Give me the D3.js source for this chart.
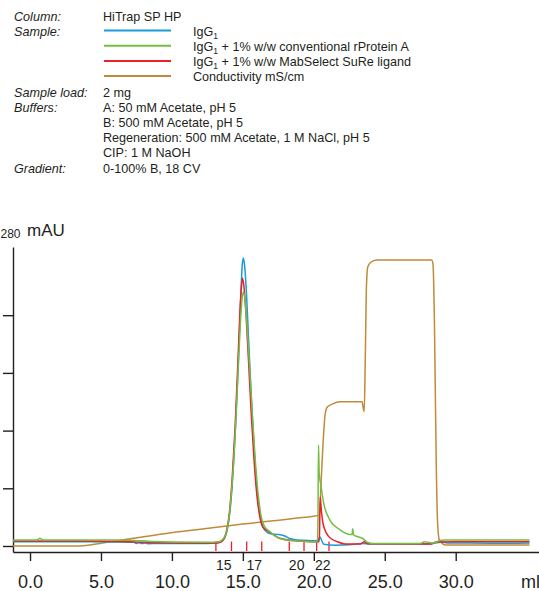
<!DOCTYPE html>
<html>
<head>
<meta charset="utf-8">
<script src="https://cdn.jsdelivr.net/npm/d3@7"></script>
<style>
  body { margin: 0; background: #fff; }
  svg { display: block; font-family: "Liberation Sans", Arial, sans-serif; }
  .hdr { font-size: 12.6px; fill: #231f20; }
  .axis path, .axis line { stroke: #231f20; stroke-width: 1.4; }
  .axis text { fill: #231f20; }
</style>
</head>
<body>
<div id="chart"></div>
<script>
// run sheet text
const headerRows = [
  ['Column:', 'HiTrap SP HP'],
  ['Sample:', ''],
  ['', ''],
  ['', ''],
  ['', ''],
  ['Sample load:', '2 mg'],
  ['Buffers:', 'A: 50 mM Acetate, pH 5'],
  ['', 'B: 500 mM Acetate, pH 5'],
  ['', 'Regeneration: 500 mM Acetate, 1 M NaCl, pH 5'],
  ['', 'CIP: 1 M NaOH'],
  ['Gradient:', '0-100% B, 18 CV']
];

const seriesNames = [
  ['IgG', '1', ''],
  ['IgG', '1', ' + 1% w/w conventional rProtein A'],
  ['IgG', '1', ' + 1% w/w MabSelect SuRe ligand'],
  ['Conductivity mS/cm', '', '']
];
const seriesColors = ['#1b9bd7', '#72bf44', '#ed2027', '#c08a3a'];

// [volume ml, A280 mAU]
const igg = [
  [-1.2, 7.5], [0.6, 7.5], [3, 7.5], [6, 7], [7.3, 6.5], [7.5, 4.5], [7.7, 5.5], [7.9, 4.2],
  [8.1, 5.2], [8.3, 4], [9, 4.3], [11, 4.3], [12.5, 4.5], [13.2, 5.5], [13.5, 8], [13.7, 13],
  [13.9, 28], [14.1, 62], [14.3, 125], [14.5, 215], [14.7, 330], [14.85, 430], [14.95, 485],
  [15.03, 499], [15.12, 486], [15.25, 440], [15.4, 360], [15.6, 255], [15.8, 165], [16, 95],
  [16.2, 55], [16.4, 34], [16.7, 24], [17, 21], [17.5, 20], [18, 17], [18.3, 13], [18.8, 10.5],
  [19.3, 10], [20, 9], [20.3, 9], [20.42, 16], [20.55, 10], [20.7, 3], [21.5, 1.5], [22.5, 2],
  [23.4, 4.5], [24, 3.5], [28, 3.5], [28.6, 5], [29, 7], [29.5, 5], [31, 5], [33, 4.8], [35.2, 5]
];

const iggRpa = [
  [-1.2, 10.4], [0.5, 10.4], [0.7, 13.5], [0.9, 10.4], [5, 10.4], [7, 10], [8.5, 8], [10, 7],
  [12.5, 6.5], [13.3, 7.5], [13.6, 12], [13.85, 24], [14.05, 55], [14.25, 110], [14.45, 190],
  [14.65, 295], [14.82, 385], [14.95, 430], [15.04, 440], [15.13, 430], [15.3, 380], [15.5, 300],
  [15.7, 215], [15.9, 140], [16.1, 85], [16.3, 50], [16.5, 35], [16.9, 25], [17.6, 13],
  [18.5, 9.5], [19.5, 8], [20.25, 7.5], [20.29, 40], [20.33, 175], [20.38, 125], [20.5, 105],
  [20.7, 74], [21.13, 45], [21.85, 28], [22.55, 20], [22.7, 20], [22.74, 30], [22.8, 19],
  [23, 17], [23.45, 13], [23.8, 6], [24.2, 4.5], [27.5, 4.5], [27.8, 7.5], [28.1, 6], [28.5, 5],
  [28.8, 9], [29.2, 10.4], [35.2, 10.4]
];

const iggSure = [
  [-1.2, 8.5], [3, 8.5], [7, 7.5], [9, 5.5], [12, 5], [13, 5], [13.4, 6.5], [13.65, 12],
  [13.85, 26], [14.05, 58], [14.25, 118], [14.45, 205], [14.65, 318], [14.8, 410], [14.9, 450],
  [14.97, 464], [15.05, 455], [15.2, 410], [15.4, 320], [15.6, 225], [15.8, 145], [16, 85],
  [16.2, 50], [16.4, 33], [16.9, 24], [17.6, 13.5], [18.5, 9.5], [19.5, 8], [20.36, 7.5],
  [20.4, 20], [20.45, 85], [20.53, 62], [20.63, 42], [20.78, 28], [21, 18], [21.2, 13],
  [21.6, 8], [22.2, 3.5], [23.3, 3.5], [23.55, 7.5], [23.8, 4], [28.3, 3.5], [28.6, 7],
  [30, 7.5], [35.2, 7.5]
];

// [volume ml, conductivity mS/cm]
const conductivity = [
  [-1.2, 0], [3.5, 0], [5, 0.9], [9.6, 4.2], [12, 5.6], [15, 7.3], [19, 9.4], [20.4, 10.3],
  [20.5, 20], [20.7, 38], [20.8, 44], [20.95, 46.3], [21.3, 47.3], [21.85, 48.1], [23.4, 48.1],
  [23.48, 46], [23.55, 44.8], [23.62, 60], [23.7, 85], [23.8, 93], [24, 94.5], [24.43, 95.3],
  [28.3, 95.3], [28.4, 94], [28.5, 75], [28.62, 30], [28.72, 8], [28.85, 2], [29.3, 0.3],
  [35.2, 0.3]
];

// fraction marks (ml) and labels
const fractionMarks = [13.1, 14.2, 15.27, 16.33, 18.27, 19.31, 20.2, 21.07];
const fractionLabels = [['15', 13.1, 14.2], ['17', 15.27, 16.33], ['20', 18.27, 19.31], ['22', 20.2, 21.07]];

const xTicks = [0, 5, 10, 15, 20, 25, 30];
const yTicks = [0, 100, 200, 300, 400];

const width = 539, height = 591;

const svg = d3.select('#chart').append('svg')
  .attr('width', width)
  .attr('height', height);

// header block
const rowY = i => 20.7 + i * 15.18;
const hdr = svg.append('g').attr('class', 'hdr');
headerRows.forEach((r, i) => {
  hdr.append('text').attr('x', 14).attr('y', rowY(i)).style('font-style', 'italic').text(r[0]);
  hdr.append('text').attr('x', 103).attr('y', rowY(i)).text(r[1]);
});
seriesNames.forEach((s, i) => {
  const yy = rowY(i + 1);
  hdr.append('line')
    .attr('x1', 104).attr('x2', 171)
    .attr('y1', yy - 5.3).attr('y2', yy - 5.3)
    .attr('stroke', seriesColors[i]).attr('stroke-width', 2);
  const t = hdr.append('text').attr('x', 193).attr('y', yy);
  t.append('tspan').text(s[0]);
  if (s[1]) t.append('tspan').attr('dy', 3).style('font-size', '8.5px').text(s[1]);
  if (s[2]) t.append('tspan').attr('dy', -3).text(s[2]);
});

// scales
const x = d3.scaleLinear().domain([-1.2, 35.87]).range([13, 539]);
const y = d3.scaleLinear().domain([-10.4, 518.2]).range([552, 247]);
const yCond = d3.scaleLinear().domain([0, 100]).range([546, 246]);

// axes
svg.append('g')
  .attr('class', 'axis')
  .attr('transform', 'translate(13,0)')
  .call(d3.axisLeft(y).tickValues(yTicks).tickSize(10).tickSizeOuter(0).tickFormat(''));

svg.append('g')
  .attr('class', 'axis')
  .attr('transform', 'translate(0,552)')
  .call(d3.axisBottom(x).tickValues(xTicks).tickSize(9).tickSizeOuter(0)
    .tickPadding(14).tickFormat(d3.format('.1f')))
  .call(g => g.selectAll('text').style('font-size', '18px').attr('font-family', null));

svg.append('text')
  .attr('x', 521).attr('y', 588)
  .style('font-size', '18px').attr('fill', '#231f20')
  .text('ml');

// y title: the "A" of A280 sits beyond the left edge, only the subscript shows
svg.append('text')
  .attr('x', 0.5).attr('y', 237.5)
  .attr('fill', '#231f20')
  .style('font-size', '12px')
  .text('280');
svg.append('text')
  .attr('x', 27).attr('y', 236)
  .attr('fill', '#231f20')
  .style('font-size', '17px')
  .text('mAU');

// fractions
svg.append('g')
  .selectAll('line')
  .data(fractionMarks)
  .join('line')
  .attr('x1', d => x(d)).attr('x2', d => x(d))
  .attr('y1', 551).attr('y2', 541.5)
  .attr('stroke', '#ed2027').attr('stroke-width', 1.3);

svg.append('g')
  .selectAll('text')
  .data(fractionLabels)
  .join('text')
  .attr('x', d => x((d[1] + d[2]) / 2))
  .attr('y', 570)
  .attr('text-anchor', 'middle')
  .attr('fill', '#231f20')
  .style('font-size', '14px')
  .text(d => d[0]);

// curves
const uvLine = d3.line().x(d => x(d[0])).y(d => y(d[1])).curve(d3.curveMonotoneX);
const condLine = d3.line().x(d => x(d[0])).y(d => yCond(d[1])).curve(d3.curveMonotoneX);

const traces = [
  [conductivity, condLine, seriesColors[3]],
  [igg, uvLine, seriesColors[0]],
  [iggSure, uvLine, seriesColors[2]],
  [iggRpa, uvLine, seriesColors[1]]
];
traces.forEach(([data, gen, color]) => {
  svg.append('path')
    .datum(data)
    .attr('fill', 'none')
    .attr('stroke', color)
    .attr('stroke-width', 1.5)
    .attr('stroke-linejoin', 'round')
    .attr('d', gen);
});
</script>
</body>
</html>
